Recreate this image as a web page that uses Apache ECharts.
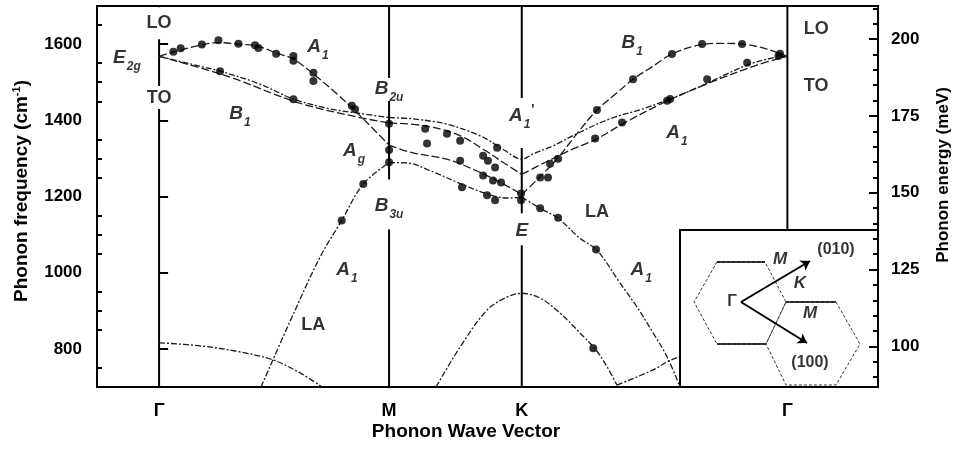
<!DOCTYPE html>
<html>
<head>
<meta charset="utf-8">
<script src="https://cdn.jsdelivr.net/npm/echarts@6/dist/echarts.min.js"></script>
<style>
  html, body { margin: 0; padding: 0; background: #fff; }
  #chart { width: 958px; height: 452px; }
</style>
</head>
<body>
<div id="chart"></div>
<script>
// Phonon dispersion of graphite along Γ–M–K–Γ (wave vector in units of |ΓM|)
const FONT = '"Liberation Sans", Arial, Helvetica, sans-serif';
const CM_PER_MEV = 8.0655;
const freqMin = 700, freqMax = 1700;

const kTickValues = [0, 1, 1.577, 2.732];
const kTickLabels = ['Γ', 'M', 'K', 'Γ'];
const freqTicks = [800, 1000, 1200, 1400, 1600];
const freqMinorTicks = [700, 750, 850, 900, 950, 1050, 1100, 1150, 1250, 1300, 1350, 1450, 1500, 1550, 1650, 1700];
const energyTicks = [100, 125, 150, 175, 200];
const energyMinorTicks = [90, 95, 105, 110, 115, 120, 130, 135, 140, 145, 155, 160, 165, 170, 180, 185, 190, 195, 205, 210];

// calculated branches [k, cm^-1]
const toGM = [[0,1568],[0.135,1548],[0.265,1529],[0.439,1495],[0.583,1456],[0.743,1430],[0.852,1420],[1,1407]];
const toMKG = [[1,1407],[1.1,1404],[1.25,1390],[1.4,1358],[1.5,1322],[1.577,1298],[1.626,1312],[1.713,1333],[1.817,1365],[1.961,1404],[2.104,1430],[2.222,1456],[2.339,1485],[2.47,1522],[2.57,1548],[2.687,1566],[2.732,1568]];

const to2GM = [[0,1568],[0.3,1515],[0.6,1447],[0.85,1410],[1,1393]];
const to2MK = [[1,1393],[1.15,1386],[1.3,1362],[1.42,1320],[1.5,1288],[1.577,1258]];
const to2KG = [[1.577,1258],[1.68,1290],[1.8,1325],[1.9,1350],[2.02,1392],[2.2,1448],[2.4,1500],[2.6,1545],[2.732,1568]];

const loGM = [[0,1568],[0.061,1579],[0.178,1597],[0.257,1604],[0.343,1600],[0.426,1595],[0.513,1576],[0.583,1561],[0.67,1522],[0.774,1469],[0.843,1430],[0.917,1386],[1,1335]];
const loMK = [[1,1335],[1.1,1315],[1.25,1298],[1.39,1265],[1.5,1232],[1.577,1205]];
const loKG = [[1.577,1205],[1.67,1260],[1.735,1302],[1.817,1365],[1.904,1427],[1.991,1472],[2.061,1508],[2.148,1542],[2.23,1574],[2.352,1598],[2.452,1602],[2.539,1600],[2.643,1587],[2.732,1568]];

const laGM = [[0.443,700],[0.57,873],[0.7,1041],[0.794,1137],[0.888,1233],[1,1289]];
const laMK = [[1,1289],[1.078,1288],[1.178,1268],[1.309,1234],[1.426,1207],[1.513,1196],[1.577,1198]];
const laKG = [[1.577,1198],[1.657,1169],[1.735,1143],[1.83,1090],[1.904,1059],[2.004,973],[2.078,910],[2.148,842],[2.209,779],[2.265,700]];

const lowGM = [[0,816],[0.178,808],[0.352,792],[0.496,771],[0.613,737],[0.709,700]];
const lowK = [[1.204,700],[1.309,805],[1.426,902],[1.513,936],[1.577,946],[1.657,933],[1.743,894],[1.83,842],[1.9,797],[1.948,753],[1.991,705]];
const lowKG = [[1.991,705],[2.148,745],[2.209,766],[2.252,777],[2.35,798]];

// measured phonon frequencies [k, cm^-1]
const expGM = [[0.062,1580],[0.094,1589],[0.186,1599],[0.258,1610],[0.345,1601],[0.417,1597],[0.432,1590],[0.509,1575],[0.584,1569],[0.584,1556],[0.671,1525],[0.671,1503],[0.838,1438],[0.852,1429],[0.265,1529],[0.584,1455],[0.794,1137],[0.888,1233]];
const expM = [[1,1391],[1,1322],[1,1290]];
const expMK = [[1.157,1378],[1.252,1365],[1.309,1346],[1.165,1339],[1.47,1328],[1.409,1307],[1.43,1294],[1.461,1276],[1.309,1294],[1.409,1255],[1.452,1242],[1.487,1237],[1.317,1224],[1.426,1203],[1.461,1190],[1.574,1208],[1.574,1190]];
const expKG = [[1.657,1250],[1.691,1250],[1.7,1286],[1.735,1299],[1.904,1427],[2.061,1508],[2.23,1574],[2.361,1600],[2.535,1600],[2.693,1569],[2.7,1575],[1.896,1352],[2.013,1394],[2.209,1451],[2.222,1456],[2.383,1508],[2.557,1551],[1.657,1169],[1.735,1144],[1.9,1061],[1.888,802]];

// symmetry labels [k, cm^-1, text]
const annotations = [
  [0, 1655, '{b|LO}'],
  [0, 1459, '{b|TO}'],
  [-0.14, 1565, '{i|E}{s|2g}'],
  [0.691, 1592, '{i|A}{s|1}'],
  [0.352, 1417, '{i|B}{s|1}'],
  [1, 1482, '{i|B}{s|2u}'],
  [0.848, 1320, '{i|A}{s|g}'],
  [1, 1176, '{i|B}{s|3u}'],
  [1.577, 1412, '{i|A}{s|1}{p|\'}'],
  [1.577, 1111, '{i|E}'],
  [2.057, 1603, '{i|B}{s|1}'],
  [2.252, 1367, '{i|A}{s|1}'],
  [1.904, 1158, '{b|LA}'],
  [2.096, 1009, '{i|A}{s|1}'],
  [0.817, 1009, '{i|A}{s|1}'],
  [0.67, 863, '{b|LA}'],
  [2.857, 1639, '{b|LO}'],
  [2.857, 1490, '{b|TO}']
];
// blank spaces left in the k-point lines behind labels [k, cm^-1]
const labelGapCenters = [[0, 1655], [0, 1460], [1, 1481], [1, 1179], [1.577, 1393], [1.577, 1114]];
const labelGapSizes = [[30, 32], [30, 23], [30, 23], [30, 50], [26, 50], [18, 32]];

// Brillouin-zone sketch (inset coordinates)
const hexA = [[37,32],[85,32],[106,72],[86,114],[37,114],[14,72]];
const hexB = [[106,72],[156,72],[180,114],[156,155],[106,155],[86,114]];
const zoneCenter = [61, 72];
const dir010 = [130, 31];
const dir100 = [127, 113];
const insetLabels = [
  [52, 72, '{r|Γ}'],
  [100, 29, '{i|M}'],
  [120, 53, '{i|K}'],
  [130, 83, '{i|M}'],
  [156, 20, '{r|(010)}'],
  [130, 133, '{r|(100)}']
];

const lineColor = '#1c1c1c';
function curve(data, dash) {
  return {
    type: 'line', data: data, smooth: 0.35, showSymbol: false, symbol: 'none',
    xAxisIndex: 0, yAxisIndex: 0, z: 2, silent: true,
    lineStyle: { color: lineColor, width: 1.3, type: dash }
  };
}
const dashA = [8, 3];
const dashB = [6, 2, 2, 2];

const labelRich = {
  b: { fontFamily: FONT, fontWeight: 'bold', fontSize: 18, color: '#000' },
  i: { fontFamily: FONT, fontWeight: 'bold', fontStyle: 'italic', fontSize: 19, color: '#000' },
  s: { fontFamily: FONT, fontWeight: 'bold', fontStyle: 'italic', fontSize: 12, color: '#000', padding: [18, 0, 0, 1] },
  p: { fontFamily: FONT, fontWeight: 'bold', fontSize: 14, color: '#000', padding: [0, 0, 12, 1] }
};

const series = [];
// vertical lines through the high-symmetry points
kTickValues.forEach(v => {
  series.push({
    type: 'line', xAxisIndex: 0, yAxisIndex: 0, z: 1, silent: true, symbol: 'none',
    data: [[v, freqMin], [v, freqMax]],
    lineStyle: { color: '#000', width: 2, type: 'solid' }
  });
});
series.push(
  curve(toGM, dashB), curve(toMKG, dashB),
  curve(to2GM, dashA), curve(to2MK, dashA), curve(to2KG, dashA),
  curve(loGM, dashA), curve(loMK, dashA), curve(loKG, dashA),
  curve(laGM, dashB), curve(laMK, dashB), curve(laKG, dashB),
  curve(lowGM, dashB), curve(lowK, dashB), curve(lowKG, dashB),
  {
    type: 'scatter', xAxisIndex: 0, yAxisIndex: 0, z: 3, silent: true,
    data: expGM.concat(expM, expMK, expKG),
    symbol: 'circle', symbolSize: 8,
    itemStyle: { color: '#000' }
  },
  {
    // white gaps behind the symmetry labels on the k-point lines
    type: 'scatter', xAxisIndex: 0, yAxisIndex: 0, z: 20, silent: true,
    symbol: 'rect',
    data: labelGapCenters.map((c, i) => ({ value: c, symbolSize: labelGapSizes[i] })),
    itemStyle: { color: '#fff', opacity: 1 }
  },
  {
    type: 'scatter', xAxisIndex: 0, yAxisIndex: 0, z: 30, silent: true,
    symbol: 'circle', symbolSize: 0.1, itemStyle: { color: 'rgba(0,0,0,0)' },
    data: annotations.map(a => ({ value: [a[0], a[1]], label: { formatter: a[2] } })),
    label: { show: true, position: 'inside', rich: labelRich }
  },
  // inset: reciprocal lattice sketch
  {
    type: 'line', xAxisIndex: 1, yAxisIndex: 4, z: 10, silent: true, symbol: 'none',
    data: hexA.concat([hexA[0]]),
    lineStyle: { color: '#333', width: 1, type: [3, 2] }
  },
  {
    type: 'line', xAxisIndex: 1, yAxisIndex: 4, z: 10, silent: true, symbol: 'none',
    data: hexB.concat([hexB[0]]),
    lineStyle: { color: '#333', width: 1, type: [3, 2] }
  },
  {
    type: 'lines', coordinateSystem: 'cartesian2d', xAxisIndex: 1, yAxisIndex: 4, z: 11, silent: true,
    lineStyle: { color: '#000', width: 1.6, opacity: 1 },
    data: [
      { coords: [hexA[0], hexA[1]] },
      { coords: [hexA[3], hexA[4]] },
      { coords: [hexB[0], hexB[1]] }
    ]
  },
  {
    type: 'lines', coordinateSystem: 'cartesian2d', xAxisIndex: 1, yAxisIndex: 4, z: 12, silent: true,
    symbol: ['none', 'arrow'], symbolSize: 9,
    lineStyle: { color: '#000', width: 2, opacity: 1 },
    data: [
      { coords: [zoneCenter, dir010] },
      { coords: [zoneCenter, dir100] }
    ]
  },
  {
    type: 'scatter', xAxisIndex: 1, yAxisIndex: 4, z: 13, silent: true,
    symbol: 'circle', symbolSize: 0.1, itemStyle: { color: 'rgba(0,0,0,0)' },
    data: insetLabels.map(a => ({ value: [a[0], a[1]], label: { formatter: a[2] } })),
    label: {
      show: true, position: 'inside',
      rich: {
        r: { fontFamily: FONT, fontWeight: 'bold', fontSize: 16, color: '#000' },
        i: { fontFamily: FONT, fontWeight: 'bold', fontStyle: 'italic', fontSize: 17, color: '#000' }
      }
    }
  }
);

const tickLabelStyle = { fontFamily: FONT, fontWeight: 'bold', fontSize: 17, color: '#000' };
const plainNumber = v => String(Math.round(v));

const option = {
  animation: false,
  backgroundColor: '#fff',
  grid: [
    { left: 97, top: 6, right: 80, bottom: 65, show: true, borderColor: '#000', borderWidth: 2, backgroundColor: 'transparent' },
    { left: 680, top: 230, width: 198, height: 157, show: false }
  ],
  xAxis: [
    {
      type: 'value', gridIndex: 0, min: -0.27, max: 3.126,
      axisLine: { show: false }, axisTick: { show: false }, splitLine: { show: false },
      axisLabel: {
        customValues: kTickValues, margin: 15, ...tickLabelStyle, fontSize: 18,
        formatter: v => {
          let best = 0;
          kTickValues.forEach((t, i) => { if (Math.abs(t - v) < Math.abs(kTickValues[best] - v)) best = i; });
          return kTickLabels[best];
        }
      }
    },
    { type: 'value', gridIndex: 1, min: 0, max: 198, show: false }
  ],
  yAxis: [
    {
      type: 'value', gridIndex: 0, position: 'left', min: freqMin, max: freqMax,
      axisLine: { show: false }, splitLine: { show: false },
      axisTick: { customValues: freqTicks, inside: true, length: 9, lineStyle: { color: '#000', width: 2 } },
      axisLabel: { customValues: freqTicks, margin: 15, formatter: plainNumber, ...tickLabelStyle }
    },
    {
      type: 'value', gridIndex: 0, position: 'left', min: freqMin, max: freqMax,
      axisLine: { show: false }, splitLine: { show: false }, axisLabel: { show: false },
      axisTick: { customValues: freqMinorTicks, inside: true, length: 5, lineStyle: { color: '#000', width: 2 } }
    },
    {
      type: 'value', gridIndex: 0, position: 'right', z: 20,
      min: freqMin / CM_PER_MEV, max: freqMax / CM_PER_MEV,
      axisLine: { show: false }, splitLine: { show: false },
      axisTick: { customValues: energyTicks, inside: true, length: 9, lineStyle: { color: '#000', width: 2 } },
      axisLabel: { customValues: energyTicks, margin: 13, formatter: plainNumber, ...tickLabelStyle }
    },
    {
      type: 'value', gridIndex: 0, position: 'right', z: 20,
      min: freqMin / CM_PER_MEV, max: freqMax / CM_PER_MEV,
      axisLine: { show: false }, splitLine: { show: false }, axisLabel: { show: false },
      axisTick: { customValues: energyMinorTicks, inside: true, length: 5, lineStyle: { color: '#000', width: 2 } }
    },
    { type: 'value', gridIndex: 1, min: 0, max: 157, inverse: true, show: false }
  ],
  graphic: [
    {
      type: 'rect', z: 8, silent: true,
      shape: { x: 680, y: 230, width: 198, height: 157 },
      style: { fill: '#fff', stroke: '#000', lineWidth: 2 }
    },
    {
      type: 'text', z: 8, silent: true, x: 466, y: 432,
      style: { text: 'Phonon Wave Vector', font: 'bold 19px ' + FONT, fill: '#000', textAlign: 'center', textVerticalAlign: 'middle' }
    },
    {
      type: 'text', z: 8, silent: true, x: 22, y: 191, rotation: Math.PI / 2,
      style: {
        text: '{t|Phonon frequency (cm}{u|-1}{t|)}', textAlign: 'center', textVerticalAlign: 'middle',
        rich: {
          t: { fontFamily: FONT, fontWeight: 'bold', fontSize: 19, fill: '#000' },
          u: { fontFamily: FONT, fontWeight: 'bold', fontSize: 11, fill: '#000', padding: [0, 0, 10, 0] }
        }
      }
    },
    {
      type: 'text', z: 8, silent: true, x: 943, y: 175, rotation: Math.PI / 2,
      style: { text: 'Phonon energy (meV)', font: 'bold 17px ' + FONT, fill: '#000', textAlign: 'center', textVerticalAlign: 'middle' }
    }
  ],
  series: series
};

const chart = echarts.init(document.getElementById('chart'), null, { renderer: 'canvas' });
chart.setOption(option);
</script>
</body>
</html>
